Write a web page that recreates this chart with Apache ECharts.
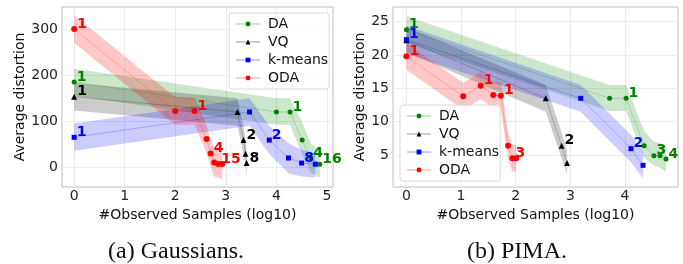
<!DOCTYPE html>
<html>
<head>
<meta charset="utf-8">
<script src="https://cdn.jsdelivr.net/npm/echarts@6/dist/echarts.min.js"></script>
<style>
  html, body { margin: 0; padding: 0; background: #fff; }
  #main { width: 683px; height: 264px; }
</style>
</head>
<body>
<div id="main"></div>
<script>
// (a) Gaussians
var gaussDAx = [0, 4.0, 4.27, 4.51, 4.68, 4.86];
var gaussDAy = [185, 120, 120, 59, 20, 6.5];
var gaussDAlo = [155, 92, 92, 28, -12, -23];
var gaussDAhi = [214, 150, 150, 98, 52, 35];
var gaussDAtext = ['1', '', '1', '', '4', '16'];

var gaussVQx = [0, 3.23, 3.35, 3.39, 3.41];
var gaussVQy = [153, 120, 59, 29, 9];
var gaussVQlo = [123, 90, 29, 0, -20];
var gaussVQhi = [183, 150, 89, 59, 38];
var gaussVQtext = ['1', '', '2', '', '8'];

var gaussKMx = [0, 3.47, 3.86, 4.24, 4.5, 4.77];
var gaussKMy = [65, 120, 59, 20, 9, 6.5];
var gaussKMlo = [36, 90, 28, -13, -20, -22];
var gaussKMhi = [95, 150, 90, 52, 38, 30];
var gaussKMtext = ['1', '', '2', '', '8', ''];

var gaussODAx = [0, 2.0, 2.38, 2.62, 2.7, 2.77, 2.85, 2.93];
var gaussODAy = [300, 122, 122, 61, 30, 10, 7, 7];
var gaussODAlo = [270, 92, 92, 31, 0, -20, -23, -25];
var gaussODAhi = [330, 152, 152, 91, 60, 40, 37, 37];
var gaussODAtext = ['1', '', '1', '', '4', '', '15', ''];

// (b) PIMA
var pimaDAx = [0, 3.72, 4.02, 4.35, 4.53, 4.64, 4.75];
var pimaDAy = [23.8, 13.5, 13.5, 6.4, 4.9, 4.9, 4.4];
var pimaDAlo = [21.8, 11.6, 11.6, 4.6, 3.4, 3.1, 2.5];
var pimaDAhi = [25.8, 15.5, 15.5, 8.6, 7.0, 6.8, 6.3];
var pimaDAtext = ['1', '', '1', '', '3', '', '4'];

var pimaVQx = [0, 2.55, 2.84, 2.94];
var pimaVQy = [22.2, 13.5, 6.4, 3.8];
var pimaVQlo = [20.4, 11.5, 4.5, 2.2];
var pimaVQhi = [24.2, 15.5, 8.4, 5.6];
var pimaVQtext = ['', '', '2', ''];

var pimaKMx = [0, 3.19, 4.11, 4.33];
var pimaKMy = [22.3, 13.5, 5.95, 3.45];
var pimaKMlo = [20.2, 11.5, 3.9, 1.5];
var pimaKMhi = [24.4, 15.5, 8.0, 5.5];
var pimaKMtext = ['1', '', '2', ''];

var pimaODAx = [0, 1.04, 1.36, 1.59, 1.73, 1.86, 1.94, 2.01];
var pimaODAy = [19.8, 13.8, 15.4, 14.0, 13.9, 6.4, 4.5, 4.5];
var pimaODAlo = [17.8, 11.8, 13.4, 12.0, 11.9, 4.4, 2.5, 2.5];
var pimaODAhi = [21.8, 15.8, 17.4, 16.0, 15.9, 8.4, 6.5, 6.5];
var pimaODAtext = ['1', '', '1', '', '1', '', '3', ''];

var methods = ['DA', 'VQ', 'k-means', 'ODA'];
var gaussXTicks = [0, 1, 2, 3, 4, 5];
var gaussYTicks = [0, 100, 200, 300];
var pimaXTicks = [0, 1, 2, 3, 4];
var pimaYTicks = [5, 10, 15, 20, 25];

var FONT = 'DejaVu Sans';
var chart = echarts.init(document.getElementById('main'), null, { renderer: 'canvas' });

function bandSeries(name, idx, xs, lo, hi, fill) {
  return {
    type: 'custom',
    name: name + ' band',
    xAxisIndex: idx,
    yAxisIndex: idx,
    z: 1,
    silent: true,
    data: xs.map(function (x, i) { return [x, lo[i], hi[i]]; }),
    encode: { x: 0, y: [1, 2] },
    renderItem: function (params, api) {
      if (params.dataIndex !== 0) return null;
      var top = xs.map(function (x, i) { return api.coord([x, hi[i]]); });
      var bottom = xs.map(function (x, i) { return api.coord([x, lo[i]]); }).reverse();
      return {
        type: 'polygon',
        shape: { points: top.concat(bottom) },
        style: { fill: fill, stroke: null }
      };
    }
  };
}

function lineSeries(name, idx, xs, ys, text, color, symbol, size) {
  return {
    type: 'line',
    name: name,
    xAxisIndex: idx,
    yAxisIndex: idx,
    z: 3,
    data: xs.map(function (x, i) { return [x, ys[i]]; }),
    symbol: symbol,
    symbolSize: size,
    showAllSymbol: true,
    itemStyle: { color: color },
    lineStyle: { color: color, width: 1, opacity: 0.2 },
    label: {
      show: true,
      position: 'right',
      distance: 0,
      offset: [0, -5],
      formatter: function (p) { return text[p.dataIndex]; },
      color: color,
      fontWeight: 'bold',
      fontSize: 14,
      fontFamily: FONT
    },
    emphasis: { disabled: true }
  };
}

function xAxisOf(idx, min, max, ticks) {
  return {
    type: 'value', gridIndex: idx, min: min, max: max,
    name: '#Observed Samples (log10)', nameLocation: 'middle', nameGap: 18,
    nameTextStyle: { fontSize: 14, color: '#111', fontFamily: FONT },
    axisLine: { show: false },
    axisTick: { show: false, customValues: ticks },
    axisLabel: { customValues: ticks, margin: 2, fontSize: 14, color: '#222', fontFamily: FONT },
    splitLine: { show: true, lineStyle: { color: '#ececec', width: 1 } }
  };
}

function yAxisOf(idx, min, max, ticks, gap) {
  return {
    type: 'value', gridIndex: idx, min: min, max: max,
    name: 'Average distortion', nameLocation: 'middle', nameGap: gap,
    nameTextStyle: { fontSize: 14, color: '#111', fontFamily: FONT },
    axisLine: { show: false },
    axisTick: { show: false, customValues: ticks },
    axisLabel: { customValues: ticks, margin: 4, fontSize: 14, color: '#222', fontFamily: FONT },
    splitLine: { show: true, lineStyle: { color: '#ececec', width: 1 } }
  };
}

function legendOf(left, top) {
  return {
    data: methods,
    orient: 'vertical',
    left: left,
    top: top,
    itemWidth: 24,
    itemHeight: 6,
    itemGap: 4,
    padding: [4, 1, 4, 6],
    borderColor: '#d9d9d9',
    borderWidth: 1,
    borderRadius: 3,
    backgroundColor: 'rgba(255,255,255,0.8)',
    selectedMode: false,
    textStyle: { fontSize: 14, color: '#111', fontFamily: FONT, padding: [0, 0, 0, 3] }
  };
}

var GREEN = '#008000', BLACK = '#000000', BLUE = '#0000ff', RED = '#ff0000';
var GREEN_F = 'rgba(0,128,0,0.2)', BLACK_F = 'rgba(0,0,0,0.2)', BLUE_F = 'rgba(0,0,255,0.2)', RED_F = 'rgba(255,0,0,0.22)';

var series = [
  bandSeries('DA', 0, gaussDAx, gaussDAlo, gaussDAhi, GREEN_F),
  bandSeries('VQ', 0, gaussVQx, gaussVQlo, gaussVQhi, BLACK_F),
  bandSeries('k-means', 0, gaussKMx, gaussKMlo, gaussKMhi, BLUE_F),
  bandSeries('ODA', 0, gaussODAx, gaussODAlo, gaussODAhi, RED_F),
  lineSeries('DA', 0, gaussDAx, gaussDAy, gaussDAtext, GREEN, 'circle', 5),
  lineSeries('VQ', 0, gaussVQx, gaussVQy, gaussVQtext, BLACK, 'triangle', 6),
  lineSeries('k-means', 0, gaussKMx, gaussKMy, gaussKMtext, BLUE, 'rect', 5),
  lineSeries('ODA', 0, gaussODAx, gaussODAy, gaussODAtext, RED, 'circle', 6),

  bandSeries('DA', 1, pimaDAx, pimaDAlo, pimaDAhi, GREEN_F),
  bandSeries('VQ', 1, pimaVQx, pimaVQlo, pimaVQhi, BLACK_F),
  bandSeries('k-means', 1, pimaKMx, pimaKMlo, pimaKMhi, BLUE_F),
  bandSeries('ODA', 1, pimaODAx, pimaODAlo, pimaODAhi, RED_F),
  lineSeries('DA', 1, pimaDAx, pimaDAy, pimaDAtext, GREEN, 'circle', 5),
  lineSeries('VQ', 1, pimaVQx, pimaVQy, pimaVQtext, BLACK, 'triangle', 6),
  lineSeries('k-means', 1, pimaKMx, pimaKMy, pimaKMtext, BLUE, 'rect', 5),
  lineSeries('ODA', 1, pimaODAx, pimaODAy, pimaODAtext, RED, 'circle', 6)
];

chart.setOption({
  animation: false,
  backgroundColor: '#fff',
  grid: [
    { left: 62, top: 7, width: 271, height: 180, show: true, borderColor: '#bdbdbd', borderWidth: 1, backgroundColor: 'transparent' },
    { left: 393, top: 7, width: 285, height: 180, show: true, borderColor: '#bdbdbd', borderWidth: 1, backgroundColor: 'transparent' }
  ],
  xAxis: [
    xAxisOf(0, -0.24, 5.12, gaussXTicks),
    xAxisOf(1, -0.245, 4.97, pimaXTicks)
  ],
  yAxis: [
    yAxisOf(0, -43, 348, gaussYTicks, 32),
    yAxisOf(1, 0.2, 27.2, pimaYTicks, 24)
  ],
  legend: [legendOf(229, 13), legendOf(400, 105)],
  graphic: [
    { type: 'text', x: 176, y: 252, style: { text: '(a) Gaussians.', font: '24px "Liberation Serif"', fill: '#111', align: 'center', verticalAlign: 'middle' } },
    { type: 'text', x: 517, y: 252, style: { text: '(b) PIMA.', font: '24px "Liberation Serif"', fill: '#111', align: 'center', verticalAlign: 'middle' } }
  ],
  series: series
});
</script>
</body>
</html>
